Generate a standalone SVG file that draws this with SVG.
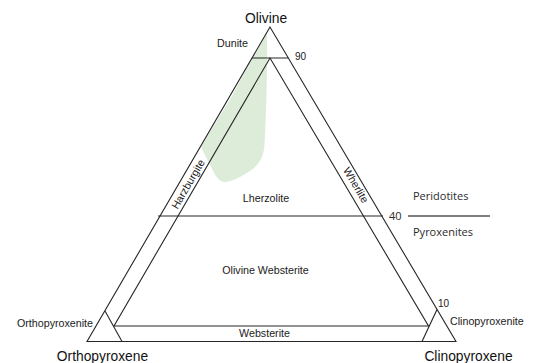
<svg xmlns="http://www.w3.org/2000/svg" width="539" height="363" viewBox="0 0 539 363">
  <style>
    .ln { fill: none; stroke: #262626; stroke-width: 1.1; stroke-linejoin: miter; }
    .lbl { font-family: "Liberation Sans", Arial, sans-serif; font-size: 10.7px; fill: #1a1a1a; }
    .end { font-family: "Liberation Sans", Arial, sans-serif; font-size: 13.8px; fill: #111; }
    .num { font-family: "Liberation Sans", Arial, sans-serif; font-size: 10px; fill: #1a1a1a; }
    .grp { font-family: "Open Sans", "Liberation Sans", sans-serif; font-size: 11px; fill: #2b2b2b; }
  </style>

  <rect width="539" height="363" fill="#ffffff"/>

  <!-- field of natural peridotite compositions -->
  <path id="field" d="M267,32 C267.5,60 266.5,110 264.5,145 C263.5,158 258,166 250,171 C242,176 234,181 225,182 C219,182.5 215,175 211,167 C208,160 204,154 201,147 L232,96 L266,33 Z" fill="#dcecd8"/>

  <!-- classification lines -->
  <g id="lines">
    <polygon class="ln" points="270,27 87,341.5 456,341.5"/>
    <polygon class="ln" points="270,58 114,326 428.5,326"/>
    <line class="ln" x1="252" y1="58" x2="288.3" y2="58"/>
    <line class="ln" x1="158" y1="216" x2="383" y2="216"/>
    <line class="ln" x1="105" y1="311" x2="122" y2="341.5"/>
    <line class="ln" x1="437" y1="309.5" x2="422" y2="341.5"/>
    <line x1="408" y1="216" x2="490" y2="216" stroke="#555" stroke-width="1.6"/>
  </g>

  <!-- end members -->
  <g id="olivine"><text class="end" x="266" y="22.5" text-anchor="middle">Olivine</text></g>
  <g id="orthopyroxene"><text class="end" x="102.5" y="360.5" text-anchor="middle">Orthopyroxene</text></g>
  <g id="clinopyroxene"><text class="end" x="468.5" y="360.5" text-anchor="middle">Clinopyroxene</text></g>

  <!-- rock fields -->
  <g id="dunite"><text class="lbl" x="232.5" y="47" text-anchor="middle">Dunite</text></g>
  <g id="harzburgite"><text class="lbl" transform="translate(188,184) rotate(-60)" text-anchor="middle" dy="3.8">Harzburgite</text></g>
  <g id="wherlite"><text class="lbl" transform="translate(356,185) rotate(59.5)" text-anchor="middle" dy="3.8">Wherlite</text></g>
  <g id="lherzolite"><text class="lbl" x="266" y="202" text-anchor="middle">Lherzolite</text></g>
  <g id="olivine-websterite"><text class="lbl" x="265.5" y="274" text-anchor="middle">Olivine Websterite</text></g>
  <g id="websterite"><text class="lbl" x="264.5" y="337" text-anchor="middle">Websterite</text></g>
  <g id="orthopyroxenite"><text class="lbl" x="93" y="327" text-anchor="end">Orthopyroxenite</text></g>
  <g id="clinopyroxenite"><text class="lbl" x="450" y="325">Clinopyroxenite</text></g>

  <!-- olivine percentages -->
  <g id="ticks">
    <text class="num" x="295" y="60">90</text>
    <text class="grp" x="389" y="219.5" font-size="10.5px">40</text>
    <text class="num" x="438" y="307">10</text>
  </g>

  <!-- group labels -->
  <g id="groups">
    <text class="grp" x="413" y="200">Peridotites</text>
    <text class="grp" x="413" y="236">Pyroxenites</text>
  </g>
</svg>
